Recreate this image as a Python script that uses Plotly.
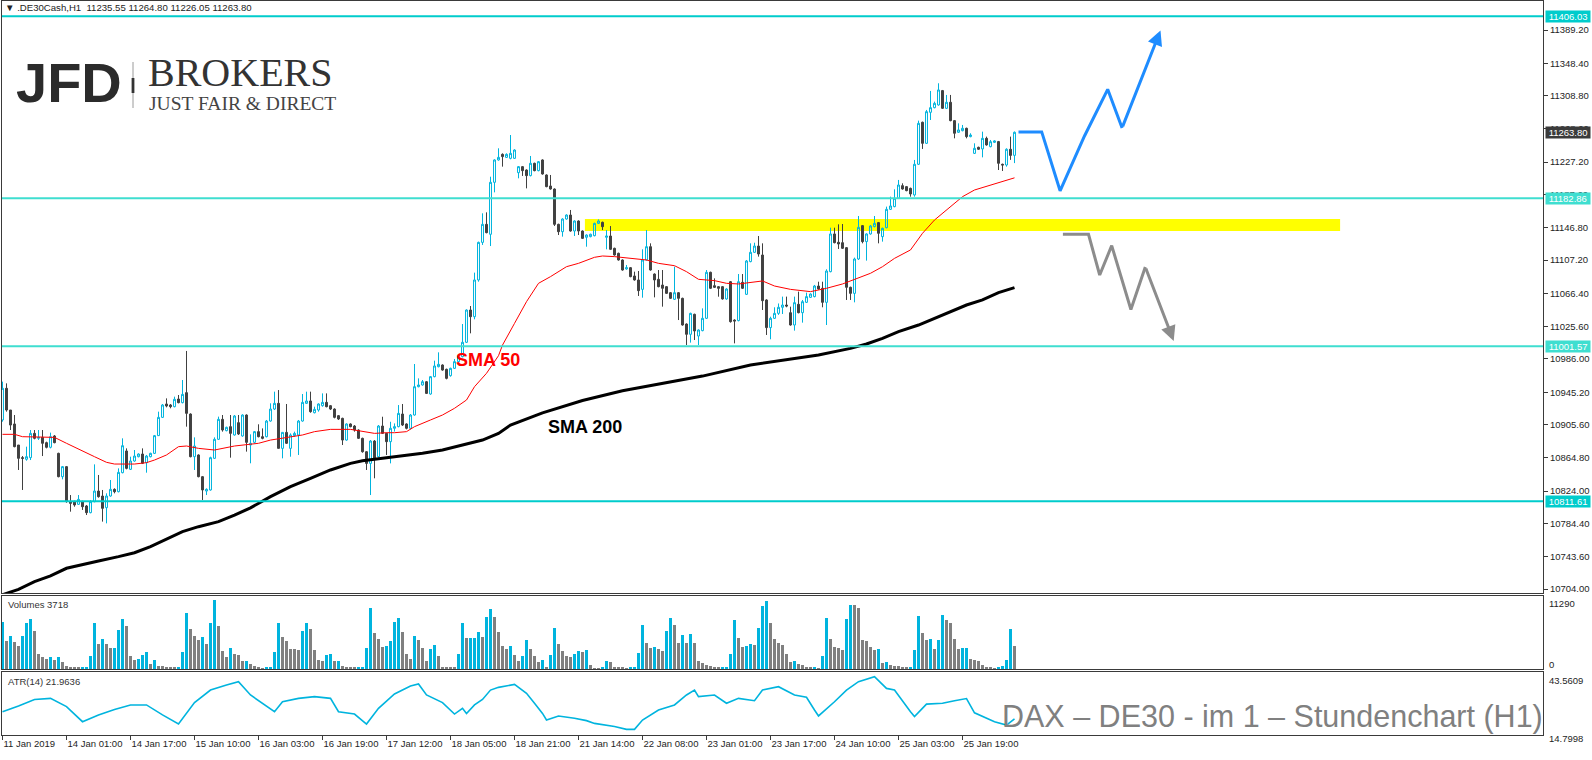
import plotly.graph_objects as go

# ---------------- data ----------------
open_ = [
10911.2,10950.0,10923.4,10906.3,10880.5,10865.0,10863.0,10865.0,10894.8,10888.7,
10889.9,10883.4,10877.7,10891.6,10870.3,10841.7,10854.0,10811.1,10811.1,10807.8,
10811.1,10805.8,10797.6,10811.1,10824.1,10818.0,10803.7,10818.0,10826.2,10823.3,
10846.6,10873.2,10850.7,10860.9,10866.2,10869.5,10858.9,10866.2,10870.3,10892.0,
10914.4,10930.8,10929.6,10927.5,10936.9,10932.4,10944.7,10918.5,10866.2,10868.3,
10841.7,10824.1,10825.4,10864.2,10887.5,10912.0,10898.1,10903.0,10892.8,10907.9,
10891.6,10917.3,10880.5,10883.8,10896.9,
10890.7,10890.7,10909.9,10924.6,10931.6,10876.4,10896.0,10876.4,10892.0,10892.8,
10909.9,10931.6,10934.5,10920.1,10923.4,10928.7,10932.8,10928.7,10924.6,10916.5,
10913.2,10886.6,10906.3,10903.8,10898.9,10888.7,10872.3,10858.0,10885.4,10866.2,
10903.8,10894.8,10884.6,10901.0,10903.0,10918.5,10906.3,10901.0,10917.3,10952.0,
10954.1,10958.1,10943.0,10964.3,10976.5,10978.6,10973.3,10965.5,10974.5,10982.7,
10988.8,11006.4,11046.0,11037.8,11082.8,11128.9,11151.0,11138.8,11202.5,11229.9,
11236.8,11233.1,11231.9,
11231.9,11214.3,11221.7,11217.6,11210.7,11225.8,11216.8,11229.9,11211.5,11198.0,
11194.3,11151.0,11142.0,11157.5,11162.4,11142.8,11155.1,11142.8,11135.1,11135.9,
11137.1,11152.2,11153.5,11135.1,11136.7,11121.6,11115.5,11107.3,11096.3,11097.9,
11087.7,11082.8,11071.3,11107.3,11123.6,11090.1,11083.6,11076.6,11074.6,11067.2,
11059.1,11067.2,11060.3,11028.8,11016.2,11040.7,11014.1,11020.7,11035.8,11092.2,
11075.8,11074.6,11074.6,11059.5,11080.7,11033.7,11033.0,11079.9,11065.2,11105.3,
11116.7,11124.4,
11113.4,11058.3,11024.4,11035.8,11041.9,11049.3,11052.1,11042.7,11027.6,11053.0,
11042.7,11055.4,11061.5,11062.4,11075.4,11072.6,11055.4,11093.0,11139.2,11129.0,
11128.5,11122.4,11073.8,11066.4,11108.5,11149.4,11129.8,11139.2,11148.2,11153.1,
11135.9,11146.9,11169.4,11172.7,11182.9,11198.4,11197.2,11195.1,11187.0,11224.6,
11276.1,11250.3,11288.3,11294.0,11297.3,11314.9,11293.2,11300.6,11278.1,11263.8,
11265.8,11268.7,11258.5,11238.0,11245.4,11243.4,11256.4,11246.2,11251.5,11252.4,
11224.6,11223.7,11243.0,11235.55]

high = [
10958.2,10956.1,10923.4,10917.3,10880.5,10867.0,10878.5,10898.9,10898.9,10898.9,
10898.9,10884.6,10895.7,10892.8,10871.1,10854.8,10854.8,10819.2,10812.3,10819.2,
10812.3,10807.0,10813.1,10856.8,10843.8,10825.4,10821.3,10837.6,10827.4,10851.9,
10888.7,10876.4,10866.2,10874.4,10870.3,10876.4,10868.3,10871.1,10892.8,10921.4,
10930.8,10937.7,10930.8,10939.8,10941.8,10960.2,10995.8,10919.3,10889.9,10869.1,
10842.5,10827.4,10866.2,10889.9,10915.3,10917.3,10903.0,10917.3,10917.3,10917.3,
10918.1,10918.1,10893.6,10897.7,10905.9,
10900.9,10911.2,10931.6,10945.9,10947.9,10896.0,10930.8,10894.8,10896.9,10911.2,
10943.0,10945.9,10945.9,10927.5,10931.6,10943.8,10943.8,10929.5,10925.5,10917.3,
10914.0,10907.1,10907.1,10905.0,10899.7,10889.5,10873.1,10886.6,10886.6,10905.0,
10915.2,10895.6,10909.0,10907.0,10929.5,10930.8,10907.1,10918.5,10979.8,10962.2,
10960.2,10959.0,10965.1,10983.9,10994.1,10979.4,10974.1,10975.3,10985.9,10990.8,
11028.8,11046.8,11050.9,11091.8,11129.8,11164.5,11165.7,11209.4,11230.7,11244.2,
11238.0,11238.0,11260.5,
11243.0,11222.5,11222.5,11218.4,11234.8,11226.6,11228.6,11230.7,11212.3,11211.5,
11195.1,11151.8,11158.4,11163.3,11168.6,11155.9,11155.9,11143.6,11138.7,11139.6,
11153.0,11157.1,11154.3,11144.0,11148.9,11122.4,11116.3,11108.1,11101.2,11098.7,
11093.0,11093.8,11120.4,11144.0,11127.7,11090.9,11095.0,11095.0,11075.4,11068.0,
11099.1,11068.0,11061.1,11029.6,11042.7,11041.5,11022.3,11048.0,11095.0,11093.0,
11084.8,11075.4,11075.4,11072.6,11081.5,11034.6,11090.1,11090.1,11107.3,11127.7,
11128.5,11136.7,
11127.7,11059.1,11037.8,11049.3,11054.0,11062.4,11062.4,11050.1,11062.4,11068.5,
11058.3,11067.3,11066.4,11076.7,11080.7,11080.7,11095.9,11146.9,11146.9,11151.0,
11151.4,11123.2,11074.6,11110.2,11161.2,11150.2,11140.0,11150.2,11161.2,11153.9,
11146.9,11172.7,11184.9,11193.9,11205.4,11201.3,11198.0,11196.0,11229.9,11278.1,
11276.9,11291.2,11314.5,11301.4,11323.9,11315.7,11309.6,11309.6,11278.9,11274.8,
11272.8,11269.5,11262.6,11250.3,11246.2,11264.6,11258.5,11254.4,11254.0,11253.2,
11225.4,11244.2,11258.5,11264.80]

low = [
10909.1,10921.4,10898.9,10877.7,10849.9,10825.4,10861.3,10862.1,10887.5,10886.7,
10867.0,10876.4,10876.4,10882.6,10840.9,10838.4,10809.8,10798.8,10804.9,10807.0,
10800.9,10794.7,10796.8,10810.3,10816.0,10786.6,10784.5,10817.2,10821.3,10822.5,
10845.8,10850.7,10849.9,10860.1,10865.4,10857.2,10846.6,10865.4,10869.5,10891.6,
10913.6,10926.7,10925.5,10926.7,10931.6,10931.6,10903.0,10865.4,10849.9,10840.9,
10813.1,10819.2,10824.6,10863.4,10886.7,10896.9,10897.3,10865.0,10892.0,10892.8,
10890.7,10872.4,10858.1,10882.6,10889.9,
10887.5,10889.9,10909.1,10923.4,10876.4,10864.2,10881.8,10866.2,10890.7,10868.3,
10909.1,10930.8,10920.1,10919.3,10921.4,10927.5,10926.7,10923.4,10913.2,10911.2,
10880.5,10885.8,10902.2,10896.9,10887.9,10871.1,10849.9,10819.2,10839.7,10865.4,
10894.0,10868.3,10858.0,10897.0,10902.2,10903.8,10899.7,10899.7,10916.5,10951.2,
10953.3,10943.0,10942.2,10963.5,10975.7,10971.6,10961.0,10964.3,10973.7,10981.9,
10988.0,11005.6,11017.4,11034.6,11080.7,11125.7,11140.0,11124.4,11190.2,11229.0,
11221.7,11232.3,11230.7,
11231.1,11207.4,11210.3,11195.1,11209.8,11216.0,11216.0,11211.9,11196.4,11193.5,
11149.0,11137.9,11135.9,11156.7,11142.0,11136.7,11137.9,11133.0,11123.6,11135.1,
11136.3,11151.4,11144.0,11120.4,11119.6,11112.6,11106.5,11094.2,11095.4,11086.1,
11082.0,11063.2,11061.1,11106.5,11094.2,11061.5,11073.8,11050.1,11065.6,11059.5,
11058.3,11033.7,11026.8,11003.1,11006.0,11009.2,11003.1,11019.9,11035.0,11071.7,
11073.0,11062.3,11058.7,11058.7,11030.5,11005.1,11032.1,11071.7,11064.4,11104.5,
11115.9,11111.4,
11046.0,11015.4,11010.1,11035.0,11040.0,11041.1,11049.3,11026.8,11020.7,11041.9,
11030.5,11054.6,11060.7,11061.5,11071.0,11049.3,11027.6,11092.2,11127.7,11120.8,
11120.8,11058.3,11058.3,11055.4,11107.3,11127.7,11106.5,11138.4,11147.3,11127.7,
11129.8,11146.1,11168.6,11171.9,11182.1,11193.5,11191.5,11184.9,11184.9,11223.8,
11243.4,11249.5,11278.9,11293.2,11296.5,11292.4,11292.4,11277.3,11256.4,11263.0,
11265.0,11256.4,11257.7,11237.2,11242.1,11233.1,11247.4,11245.4,11250.7,11217.6,
11216.4,11221.7,11230.0,11226.05]

close = [
10950.0,10923.4,10905.0,10878.5,10864.2,10864.2,10866.2,10894.8,10888.7,10889.9,
10882.6,10877.7,10890.7,10883.4,10841.7,10854.0,10811.1,10809.0,10807.0,10813.9,
10804.9,10797.6,10811.1,10824.1,10817.2,10802.9,10818.0,10826.2,10823.3,10847.0,
10879.7,10851.9,10860.9,10867.0,10869.5,10858.1,10867.0,10870.3,10892.0,10914.4,
10929.6,10928.3,10927.5,10936.5,10932.4,10942.6,10919.3,10866.2,10879.3,10841.7,
10825.4,10826.2,10865.0,10887.5,10912.0,10898.9,10902.2,10894.8,10916.1,10894.0,
10917.3,10883.8,10882.6,10896.9,10890.7,
10888.7,10909.9,10924.6,10931.6,10876.4,10896.0,10882.6,10892.8,10894.8,10909.9,
10932.8,10934.5,10921.4,10924.2,10930.8,10932.8,10927.5,10924.6,10914.4,10912.4,
10886.6,10906.3,10903.0,10898.9,10888.7,10872.3,10858.0,10885.4,10864.2,10903.8,
10894.8,10884.6,10901.0,10903.0,10919.3,10905.0,10901.0,10917.3,10952.0,10954.1,
10958.1,10943.8,10964.3,10977.4,10979.4,10972.4,10962.2,10974.5,10982.7,10989.6,
11006.4,11046.0,11037.8,11082.8,11128.9,11151.0,11140.8,11202.5,11229.9,11233.1,
11234.0,11236.8,11238.0,
11242.1,11221.7,11216.8,11210.7,11225.8,11216.8,11227.8,11212.7,11197.2,11194.3,
11151.0,11142.0,11157.5,11162.4,11142.8,11155.1,11142.8,11133.8,11137.9,11138.8,
11152.2,11155.1,11148.1,11136.7,11120.4,11113.4,11107.3,11095.0,11097.9,11086.9,
11082.8,11069.7,11107.3,11123.6,11095.0,11082.8,11074.6,11072.6,11066.4,11060.3,
11067.2,11060.3,11027.6,11016.2,11041.9,11020.3,11021.5,11035.8,11092.2,11072.6,
11073.8,11072.6,11059.5,11071.7,11031.7,11032.5,11080.7,11072.6,11106.1,11116.7,
11124.4,11114.6,
11057.4,11024.4,11035.8,11041.9,11049.3,11052.1,11050.9,11027.6,11055.0,11042.7,
11056.2,11062.4,11065.6,11075.4,11071.8,11055.4,11093.8,11139.2,11128.5,11126.9,
11121.6,11073.8,11066.4,11108.5,11147.3,11129.8,11139.2,11149.0,11152.2,11140.0,
11146.1,11169.4,11173.5,11182.9,11199.2,11194.3,11192.3,11188.2,11224.6,11274.8,
11250.3,11289.1,11294.0,11299.3,11315.7,11293.2,11300.6,11278.1,11262.6,11266.7,
11268.7,11258.5,11260.5,11244.2,11243.0,11256.4,11248.3,11252.3,11253.2,11225.8,
11223.7,11243.0,11235.5,11263.80]

volume = [
7765,4507,5430,4344,3692,5430,7493,8199,6245,2498,
1955,1629,1990,1520,1990,1086,543,217,200,190,
230,260,2172,7493,4127,4887,4127,3367,3475,6407,
8199,7059,2172,1520,1629,2335,2715,869,1412,434,
420,326,270,217,300,2715,9231,6570,5321,4778,
5213,4127,7493,11290,7059,2878,1900,3475,2498,2335,
1249,1300,869,543,326,163,326,380,2715,7493,
5213,4507,3312,3250,3149,6245,7493,6570,3149,1520,
1249,2335,2498,1249,1300,543,326,300,217,326,
350,3421,9991,5810,4887,3584,3801,4507,7711,8362,
5973,2498,1629,5430,4778,3421,1249,3312,3964,2172,
326,217,200,190,2498,7602,5050,5100,5150,6082,
5213,8579,9883,8471,6000,3692,3312,3750,2335,1358,
2063,4778,3312,2063,1195,1520,326,2335,6733,4127,
2878,2063,2000,2498,2987,2715,3149,706,163,150,
180,1358,1195,326,300,272,163,180,326,2661,
7222,4290,3475,3638,3312,2987,6245,8362,7222,4290,
5593,4290,5756,4290,1358,1032,706,489,326,217,
326,380,2498,8036,5104,3638,3801,4127,3964,6733,
10317,11132,7548,4941,4290,3964,2498,1195,1358,869,
652,380,217,326,163,2172,8362,4941,3638,3475,
3149,8199,10480,10450,9991,4778,4616,3638,3149,3312,
1032,1080,706,543,520,217,200,380,3149,8688,
5919,4778,4900,3312,4778,8851,8036,7548,4941,3312,
3475,3500,1683,1520,1358,706,380,217,60,217,
543,1520,6570,3718]

atr_bar = [0,4,8,12,16,20,24,28,32,36,40,44,48,52,56,59,62,66,68,70,
           74,78,82,84,88,91,94,98,102,104,106,110,113,115,116,118,120,122,124,128,
           131,133,135,136,139,143,146,148,153,156,158,160,164,168,171,173,174,178,181,184,
           188,190,194,198,201,203,204,208,211,214,217,218,221,223,227,228,231,235,238,241,
           243,248,251,253]
atr_val = [25.3,28.0,31.1,31.6,27.7,20.6,23.8,26.4,28.5,28.5,23.8,19.5,29.6,35.5,37.9,39.5,33.2,28.0,25.3,30.0,
           31.6,32.4,31.6,25.3,24.2,19.5,26.9,33.7,37.4,38.4,33.2,29.6,24.2,26.9,24.5,28.5,31.1,35.5,36.8,38.2,
           34.0,29.3,24.5,21.4,23.3,22.2,21.1,19.8,18.3,17.0,17.0,21.4,26.1,28.5,33.2,35.5,32.4,33.2,29.3,31.6,
           30.5,35.5,37.1,33.2,32.1,26.1,23.3,30.0,35.5,39.5,41.5,41.8,36.3,35.5,25.3,23.0,28.9,29.3,30.5,31.5,
           24.8,20.6,19.0,21.9636]

sma50_bar = [0,3,5,8,13,16,19,23,26,28,33,36,38,41,44,46,49,53,58,61,64,67,70,75,78,82,87,90,93,96,
             98,101,103,107,110,113,116,118,121,124,125,128,131,134,137,141,144,148,150,153,158,161,164,168,
             171,174,178,181,184,188,190,193,197,202,206,210,213,217,220,223,227,230,233,237,240,243,247,250,253]
sma50_val = [10893.6,10893.6,10890.7,10890.7,10889.9,10882.6,10875.2,10866.2,10859.3,10857.2,10857.2,10858.9,
             10862.1,10868.3,10878.5,10879.3,10876.4,10874.4,10879.3,10881.4,10882.6,10886.6,10888.7,10892.8,
             10896.9,10899.7,10899.7,10896.9,10894.8,10895.6,10895.6,10896.9,10903.0,10911.2,10917.3,10925.5,
             10935.7,10952.0,10968.4,10990.0,11003.0,11029.6,11056.2,11078.7,11086.9,11099.1,11103.2,11110.6,
             11112.2,11111.4,11109.3,11107.3,11103.2,11100.3,11093.0,11083.6,11082.0,11078.7,11077.9,11080.7,
             11081.6,11075.4,11071.3,11068.5,11072.6,11077.9,11083.6,11091.0,11099.1,11109.3,11119.6,11140.0,
             11156.3,11172.7,11184.9,11193.1,11199.2,11204.1,11208.0]

sma200_bar = [0,4,8,12,16,20,24,29,33,37,41,45,49,54,58,62,67,72,77,82,87,90,95,100,105,110,115,120,124,127,
              135,145,155,165,175,187,195,204,212,216,220,224,229,233,237,241,245,249,253]
sma200_val = [10697.0,10703.6,10713.0,10720.0,10729.4,10733.4,10738.3,10743.7,10748.5,10756.0,10764.9,10774.3,
              10780.4,10786.6,10794.7,10803.5,10817.2,10829.4,10839.7,10849.9,10858.0,10861.3,10864.2,10867.0,
              10870.3,10874.4,10880.5,10886.6,10894.8,10905.0,10920.0,10935.0,10947.0,10956.0,10965.0,10978.6,
              10984.7,10990.8,10999.0,11004.3,11011.3,11019.5,11027.6,11035.8,11044.0,11052.1,11058.3,11067.3,11073.5]

levels = [11406.03, 11182.86, 11001.57, 10811.61]
level_colors = ["#00CCCC", "#3FDED0", "#3FDED0", "#00CCCC"]
zone_low, zone_high = 11142.9, 11157.6
zone_start_bar, zone_end_bar = 145.6, 334.4
last_price = 11263.80

price_ticks = [11389.20, 11348.40, 11308.80, 11268.00, 11227.20, 11187.60, 11146.80, 11107.20,
               11066.40, 11025.60, 10986.00, 10945.20, 10905.60, 10864.80, 10824.00, 10784.40,
               10743.60, 10704.00]
time_tick_bars = [0, 16, 32, 48, 64, 80, 96, 112, 128, 144, 160, 176, 192, 208, 224, 240]
time_labels = ["11 Jan 2019", "14 Jan 01:00", "14 Jan 17:00", "15 Jan 10:00", "16 Jan 03:00",
               "16 Jan 19:00", "17 Jan 12:00", "18 Jan 05:00", "18 Jan 21:00", "21 Jan 14:00",
               "22 Jan 08:00", "23 Jan 01:00", "23 Jan 17:00", "24 Jan 10:00", "25 Jan 03:00",
               "25 Jan 19:00"]

# scenario arrows (drawn annotations, in bar / price units)
bull_path_x = [254.0, 259.8, 264.4, 270.5, 276.3, 279.9, 289.5]
bull_path_y = [11264.3, 11264.3, 11192.1, 11259.3, 11316.5, 11269.2, 11388.7]
bear_path_x = [265.1, 271.5, 274.3, 277.3, 282.1, 285.7, 292.8]
bear_path_y = [11138.7, 11138.7, 11088.9, 11124.9, 11046.6, 11098.8, 11008.1]

n = len(close)
assert len(open_) == n and len(high) == n and len(low) == n and len(volume) == n
assert len(atr_bar) == len(atr_val) and len(sma50_bar) == len(sma50_val) and len(sma200_bar) == len(sma200_val)
bars = list(range(n))

# ---------------- styling / layout ----------------
W, H = 1592, 760
ML, MR, MT, MB = 2, 49, 1, 25
PW, PH = W - ML - MR, H - MT - MB
CYAN = "#00B4DE"
DARK = "#404040"
FRAME = "#3a3a3a"
FONT = "Liberation Sans"

def PX(x):
    return (x - ML) / PW

def PY(y):
    return (H - MB - y) / PH

XR = [-0.125, (PW - 0.5) / 4.0]

vol_colors = [CYAN] + [CYAN if volume[i] > volume[i - 1] else "#808080" for i in range(1, n)]

fig = go.Figure()
fig.add_trace(go.Candlestick(
    x=bars, open=open_, high=high, low=low, close=close,
    increasing=dict(line=dict(color=CYAN, width=1), fillcolor="rgba(255,255,255,0)"),
    decreasing=dict(line=dict(color=DARK, width=1), fillcolor=DARK),
    whiskerwidth=0, xaxis="x", yaxis="y", hoverinfo="skip"))
fig.add_trace(go.Scatter(x=sma50_bar, y=sma50_val, mode="lines",
                         line=dict(color="#FF0000", width=1), xaxis="x", yaxis="y"))
fig.add_trace(go.Scatter(x=sma200_bar, y=sma200_val, mode="lines",
                         line=dict(color="#000000", width=3), xaxis="x", yaxis="y"))
fig.add_trace(go.Scatter(x=bull_path_x[:-1], y=bull_path_y[:-1], mode="lines",
                         line=dict(color="#1E8CFF", width=3), xaxis="x", yaxis="y"))
fig.add_trace(go.Scatter(x=bear_path_x[:-1], y=bear_path_y[:-1], mode="lines",
                         line=dict(color="#8C8C8C", width=3), xaxis="x", yaxis="y"))
fig.add_trace(go.Bar(x=bars, y=volume, marker=dict(color=vol_colors, line=dict(width=0)),
                     width=0.58, xaxis="x2", yaxis="y2"))
fig.add_trace(go.Scatter(x=atr_bar, y=atr_val, mode="lines",
                         line=dict(color=CYAN, width=1.6), xaxis="x3", yaxis="y3"))

axis_common = dict(showgrid=False, zeroline=False, showline=True, mirror=True,
                   linecolor=FRAME, linewidth=1, fixedrange=True)
tickfont = dict(family=FONT, size=9.5, color="#1e1e1e")

fig.update_layout(
    width=W, height=H, margin=dict(l=ML, r=MR, t=MT, b=MB),
    paper_bgcolor="white", plot_bgcolor="white", showlegend=False,
    hovermode=False, bargap=0,
    xaxis=dict(domain=[0, 1], range=XR, anchor="y", showticklabels=False, ticks="",
               rangeslider=dict(visible=False), **axis_common),
    xaxis2=dict(domain=[0, 1], range=XR, anchor="y2", showticklabels=False, ticks="",
                matches="x", **axis_common),
    xaxis3=dict(domain=[0, 1], range=XR, anchor="y3", matches="x",
                tickmode="array", tickvals=time_tick_bars, ticktext=time_labels,
                ticks="outside", ticklen=4, tickcolor=FRAME, ticklabelposition="outside right",
                tickfont=tickfont, **axis_common),
    yaxis=dict(domain=[(H - MB - 593) / PH, 1], range=[10699.13, 11424.74], side="right",
               tickmode="array", tickvals=price_ticks, ticktext=["%.2f" % v for v in price_ticks],
               ticks="outside", ticklen=4, tickcolor=FRAME, tickfont=tickfont, **axis_common),
    yaxis2=dict(domain=[(H - MB - 669) / PH, (H - MB - 596) / PH], range=[0, 11944],
                side="right", showticklabels=False, ticks="", **axis_common),
    yaxis3=dict(domain=[0, (H - MB - 672) / PH], range=[14.33, 44.03],
                side="right", showticklabels=False, ticks="", **axis_common),
)

shapes = []
shapes.append(dict(type="rect", xref="x", yref="y", x0=zone_start_bar, x1=zone_end_bar,
                   y0=zone_low, y1=zone_high, fillcolor="#FFFF00", line=dict(width=0), layer="below"))
for lv, col in zip(levels, level_colors):
    shapes.append(dict(type="line", xref="paper", yref="y", x0=0, x1=1, y0=lv, y1=lv,
                       line=dict(color=col, width=2)))
# logo separator
shapes.append(dict(type="line", xref="paper", yref="paper", x0=PX(133), x1=PX(133),
                   y0=PY(62), y1=PY(108), line=dict(color="#9a9a9a", width=1)))
shapes.append(dict(type="rect", xref="paper", yref="paper", x0=PX(131.6), x1=PX(134.4),
                   y0=PY(78), y1=PY(93), fillcolor="#333333", line=dict(width=0)))
fig.update_layout(shapes=shapes)

ann = []
def text(x, y, s, size, color="#1e1e1e", family=FONT, xanchor="left", bold=False, **kw):
    d = dict(xref="paper", yref="paper", x=PX(x), y=PY(y), text=("<b>%s</b>" % s) if bold else s,
             showarrow=False, xanchor=xanchor, yanchor="middle",
             font=dict(family=family, size=size, color=color))
    d.update(kw)
    ann.append(d)

NB = "\u00a0"
text(3, 8, "\u25BC" + NB + ".DE30Cash,H1" + NB * 2 + "11235.55 11264.80 11226.05 11263.80", 9.6, color="#222222")
text(14, 83, "JFD", 56, color="#2b2b2b", bold=True)
text(146, 72, "BROKERS", 40, color="#333333", family="Liberation Serif")
text(147, 103, "JUST FAIR &amp; DIRECT", 19.5, color="#444444", family="Liberation Serif")
text(488, 360, "SMA 50", 18, color="#FF0000", xanchor="center", bold=True)
text(585, 427, "SMA 200", 18, color="#000000", xanchor="center", bold=True)
text(6, 604, "Volumes 3718", 9.5, color="#333333")
text(6, 681, "ATR(14) 21.9636", 9.5, color="#333333")
text(1545, 716, "DAX \u2013 DE30 - im 1 \u2013 Stundenchart (H1)", 30.5, color="#808080", xanchor="right")
# sub-window scale labels
text(1547, 603, "11290", 9.5)
text(1547, 664, "0", 9.5)
text(1547, 680, "43.5609", 9.5)
text(1547, 738, "14.7998", 9.5)

for lv, col in zip(levels + [last_price], level_colors + ["#3b3b3b"]):
    ann.append(dict(xref="paper", yref="y", x=1, y=lv, xanchor="left", yanchor="middle", xshift=2,
                    text=NB + "%.2f" % lv + NB, showarrow=False, bgcolor=col, borderpad=0,
                    font=dict(family=FONT, size=9.5, color="white")))

for px_, py_, col in ((bull_path_x, bull_path_y, "#1E8CFF"), (bear_path_x, bear_path_y, "#8C8C8C")):
    ann.append(dict(xref="x", yref="y", axref="x", ayref="y", x=px_[-1], y=py_[-1],
                    ax=px_[-2], ay=py_[-2], text="", showarrow=True, arrowhead=2,
                    arrowsize=1, arrowwidth=3, arrowcolor=col, standoff=0))

fig.update_layout(annotations=ann)
fig.write_html("out.html")
